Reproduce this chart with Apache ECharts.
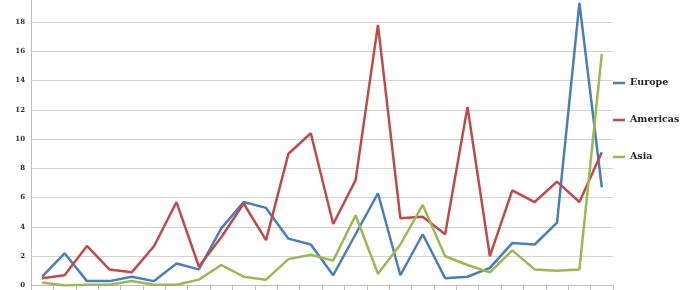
<!DOCTYPE html>
<html>
<head>
<meta charset="utf-8">
<script src="https://cdn.jsdelivr.net/npm/echarts@6/dist/echarts.min.js"></script>
<style>html,body{margin:0;padding:0;background:#fff}#c{width:680px;height:290px}</style>
</head>
<body>
<div id="c"></div>
<script>
var categories = ['1','2','3','4','5','6','7','8','9','10','11','12','13','14','15','16','17','18','19','20','21','22','23','24','25','26'];
var europe   = [0.6, 2.2, 0.3, 0.3, 0.6, 0.3, 1.5, 1.1, 3.9, 5.7, 5.3, 3.2, 2.8, 0.7, 3.5, 6.3, 0.7, 3.5, 0.5, 0.6, 1.2, 2.9, 2.8, 4.3, 19.3, 6.7];
var americas = [0.5, 0.7, 2.7, 1.1, 0.9, 2.7, 5.7, 1.3, 3.3, 5.6, 3.1, 9.0, 10.4, 4.2, 7.2, 17.8, 4.6, 4.7, 3.5, 12.2, 2.0, 6.5, 5.7, 7.1, 5.7, 9.1];
var asia     = [0.2, 0.0, 0.05, 0.05, 0.3, 0.05, 0.05, 0.4, 1.4, 0.6, 0.4, 1.8, 2.1, 1.7, 4.8, 0.8, 2.8, 5.5, 2.0, 1.4, 0.9, 2.4, 1.1, 1.0, 1.1, 15.8];
var seriesNames = ['Europe', 'Americas', 'Asia'];
var yTickValues = [0, 2, 4, 6, 8, 10, 12, 14, 16, 18];
var yMax = 19.5;

var colors = ['#4A7EBB', '#BE4B48', '#98B954'];
var chart = echarts.init(document.getElementById('c'), null, {renderer: 'canvas'});
var dataSets = [europe, americas, asia];
chart.setOption({
  animation: false,
  color: colors,
  grid: {left: 31, right: 67, top: 0, bottom: 4.5, containLabel: false},
  legend: {
    orient: 'vertical', left: 613, top: 76, padding: 0,
    itemWidth: 12, itemHeight: 2.5, itemGap: 23,
    icon: 'rect',
    data: seriesNames,
    textStyle: {fontFamily: 'DejaVu Serif', fontWeight: 'bold', fontSize: 9.5, color: '#222', lineHeight: 14}
  },
  xAxis: {
    type: 'category', data: categories, boundaryGap: true,
    axisLine: {show: true, lineStyle: {color: '#BFBFBF', width: 1}},
    axisTick: {show: true, interval: 0, length: 5, inside: false, lineStyle: {color: '#BFBFBF'}},
    axisLabel: {show: false},
    splitLine: {show: false}
  },
  yAxis: {
    type: 'value', min: yTickValues[0], max: yMax, interval: 2,
    axisLine: {show: true, lineStyle: {color: '#BFBFBF', width: 1}},
    axisTick: {show: false},
    axisLabel: {
      fontFamily: 'DejaVu Serif', fontWeight: 'bold', fontSize: 7, color: '#333', margin: 6,
      showMaxLabel: false,
      formatter: function (v) { return yTickValues.indexOf(v) >= 0 ? String(v) : ''; }
    },
    splitLine: {show: true, showMaxLine: false, lineStyle: {color: '#D4D4D4', width: 1}}
  },
  series: seriesNames.map(function (n, i) {
    return {
      name: n, type: 'line', data: dataSets[i], symbol: 'none',
      lineStyle: {width: 2.5, color: colors[i]}, itemStyle: {color: colors[i]}
    };
  })
});
</script>
</body>
</html>
